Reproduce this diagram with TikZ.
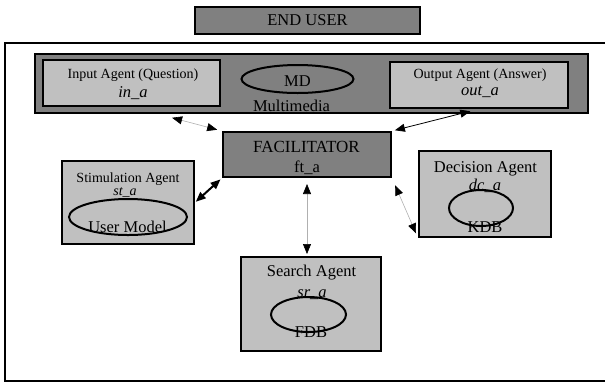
\documentclass[tikz,border=0pt]{standalone}
\definecolor{hubgray}{RGB}{128,128,128}
\definecolor{agentgray}{RGB}{192,192,192}
\definecolor{linkgray}{RGB}{176,176,176}
\usepackage{fontspec}
\setmainfont{Liberation Serif}
\usetikzlibrary{shapes.geometric, arrows.meta, calc}

\begin{document}
\begin{tikzpicture}[x=1pt, y=-1pt,
  hubbox/.style={draw, line width=2pt, fill=hubgray, inner sep=0pt},
  agentbox/.style={draw, line width=2pt, fill=agentgray, inner sep=0pt},
  store/.style={draw, ellipse, line width=2pt, inner sep=0pt},
  lbl/.style={inner sep=0pt, anchor=base, font=\fontsize{16.5}{18}\selectfont},
  smalllbl/.style={lbl, font=\fontsize{14}{16}\selectfont},
  link/.style={line width=0.6pt, draw=linkgray, >={Triangle[length=10pt,width=8pt,color=black]}, <->}
]
  \useasboundingbox (0,0) rectangle (605,384);
  \draw[line width=1.5pt] (5,43) rectangle (612,381);

  \node[hubbox, minimum width=225pt, minimum height=27pt, font=\fontsize{16.5}{18}\selectfont] (user) at (307.5,20.5) {END USER};

  % multimedia layer
  \node[hubbox, minimum width=553pt, minimum height=59pt] (mm) at (311.5,83.5) {};
  \node[agentbox, minimum width=177pt, minimum height=46pt] (inp) at (131.5,83) {};
  \node[smalllbl] (inptitle) at (133,78) {Input Agent (Question)};
  \node[lbl] (inpid) at (133,97) {\textit{in\_a}};
  \node[store, minimum width=112pt, minimum height=28pt] (md) at (297.5,79) {};
  \node[lbl] (mdlbl) at (297.5,86) {MD};
  \node[lbl] (mmlbl) at (291.5,111) {Multimedia};
  \node[agentbox, minimum width=178pt, minimum height=46pt] (out) at (479,85) {};
  \node[smalllbl] (outtitle) at (480,78) {Output Agent (Answer)};
  \node[lbl] (outid) at (480,95) {\textit{out\_a}};

  % facilitator
  \node[hubbox, minimum width=168pt, minimum height=45pt] (fac) at (307,154.5) {};
  \node[lbl, font=\fontsize{17}{19}\selectfont] (factitle) at (306.5,152) {FACILITATOR};
  \node[lbl] (facid) at (307,172) {ft\_a};

  % agents
  \node[agentbox, minimum width=132pt, minimum height=83pt] (stim) at (128,202.5) {};
  \node[smalllbl] (stimtitle) at (128,182) {Stimulation Agent};
  \node[smalllbl] (stimid) at (125,195) {\textit{st\_a}};
  \node[store, minimum width=118pt, minimum height=36pt] (um) at (128,217) {};
  \node[lbl] (umlbl) at (127.5,232) {User Model};

  \node[agentbox, minimum width=132pt, minimum height=86pt] (dec) at (485,194) {};
  \node[lbl] (dectitle) at (485.5,172) {Decision Agent};
  \node[lbl] (decid) at (485,190) {\textit{dc\_a}};
  \node[store, minimum width=64pt, minimum height=36pt] (kdb) at (481,208) {};
  \node[lbl] (kdblbl) at (485,232) {KDB};

  \node[agentbox, minimum width=140pt, minimum height=94pt] (srch) at (311,304) {};
  \node[lbl] (srchtitle) at (311.5,276) {Search Agent};
  \node[lbl] (srchid) at (312,297) {\textit{sr\_a}};
  \node[store, minimum width=75pt, minimum height=35pt] (fdb) at (308.5,314.5) {};
  \node[lbl] (fdblbl) at (311,337) {FDB};

  % links to the facilitator
  \draw[link, shorten <=42pt, shorten >=5pt] (inp.south) -- (fac.north west);
  \draw[link, draw=black, line width=0.8pt, shorten <=9pt, shorten >=3pt] (out.south) -- (fac.north east);
  \draw[link, draw=black, line width=2pt, shorten <=1pt, shorten >=2pt] (stim.east) -- (fac.south west);
  \draw[link, shorten <=8pt, shorten >=5pt] (fac.south east) -- (dec.south west);
  \draw[link, shorten <=6pt, shorten >=2pt] (fac.south) -- (fac.south |- srch.north);
\end{tikzpicture}
\end{document}
